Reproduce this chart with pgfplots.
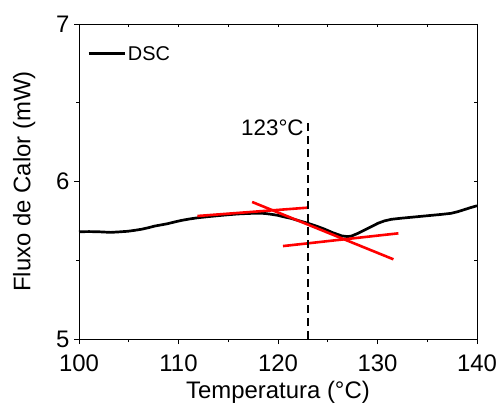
\documentclass[border=0pt]{standalone}
\usepackage{pgfplots}
\pgfplotsset{compat=1.18}
\usepackage{fontspec}
\setmainfont{Liberation Sans}
\begin{document}
\begin{tikzpicture}
\begin{axis}[
  scale only axis, width=398bp, height=315bp,
  xmin=100, xmax=140, ymin=5, ymax=7,
  xtick={100,110,...,140}, ytick={5,6,7},
  minor x tick num=1, minor y tick num=1,
  xtick pos=left, ytick pos=left,
  tick align=outside,
  major tick length=5bp, minor tick length=3bp,
  tick style={black, line width=0.8bp},
  axis line style={line width=0.8bp},
  ticklabel style={font=\fontsize{24}{26}\selectfont},
  /pgf/number format/assume math mode=true,
  xticklabel style={yshift=-7bp},
  yticklabel style={xshift=-1bp},
  xlabel={Temperatura (°C)}, ylabel={Fluxo de Calor (mW)},
  label style={font=\fontsize{24}{26}\selectfont},
  xlabel style={yshift=-3bp},
  ylabel style={yshift=14bp},
  legend style={draw=none, fill=none, at={(0.018,0.94)}, anchor=north west,
    font=\fontsize{20}{22}\selectfont, inner sep=1bp},
  legend cell align=left,
  legend image post style={line width=2.6bp},
  legend image code/.code={\draw[#1] (0bp,0bp) -- (36bp,0bp);},
  clip=false,
]
\addplot[black, line width=2.7bp] coordinates {
(100.0,5.681) (101.0,5.682) (101.9,5.681) (103.2,5.677) (104.0,5.680) (104.9,5.684)
(105.6,5.690) (106.3,5.697) (107.0,5.707) (107.6,5.717) (108.3,5.725) (108.9,5.732)
(109.6,5.743) (110.3,5.753) (111.1,5.762) (111.96,5.770) (113.0,5.777) (113.97,5.783)
(115.0,5.789) (116.0,5.794) (117.0,5.797) (118.0,5.799) (118.7,5.797) (119.3,5.792)
(120.0,5.785) (120.5,5.777) (121.3,5.766) (122.1,5.751) (123.0,5.735) (123.9,5.716)
(124.7,5.697) (125.5,5.675) (126.4,5.655) (127.0,5.650) (127.4,5.654) (128.0,5.670)
(128.7,5.692) (129.4,5.714) (130.05,5.735) (130.7,5.750) (131.4,5.760) (132.4,5.767)
(133.4,5.773) (134.4,5.779) (135.4,5.785) (136.4,5.791) (137.4,5.798) (138.1,5.809)
(138.8,5.823) (139.4,5.835) (140.0,5.846)
};
\addlegendentry{DSC}
\addplot[red, line width=2.6bp, forget plot] coordinates {(111.9,5.781) (123.0,5.834)};
\addplot[red, line width=2.6bp, forget plot] coordinates {(117.4,5.870) (131.6,5.506)};
\addplot[red, line width=2.6bp, forget plot] coordinates {(120.5,5.590) (132.1,5.671)};
\addplot[black, line width=1.8bp, dash pattern=on 8bp off 5bp, forget plot] coordinates {(123,5) (123,6.40)};
\node[anchor=east, font=\fontsize{22.5}{24}\selectfont, inner sep=0pt] at (axis cs:122.6,6.34) {123°C};
\end{axis}
\begin{axis}[
  scale only axis, width=398bp, height=315bp,
  xmin=100, xmax=140, ymin=5, ymax=7,
  xtick={100,110,...,140}, ytick={5,6,7},
  minor x tick num=1, minor y tick num=1,
  xtick pos=right, ytick pos=right,
  tick align=inside,
  major tick length=3bp, minor tick length=3bp,
  tick style={black, line width=0.8bp},
  axis line style={line width=0.8bp},
  xticklabels={}, yticklabels={},
]
\end{axis}
\pgfresetboundingbox
\path ([shift={(-79bp,-66bp)}]current axis.south west) rectangle ([shift={(21bp,24bp)}]current axis.north east);
\end{tikzpicture}
\end{document}
